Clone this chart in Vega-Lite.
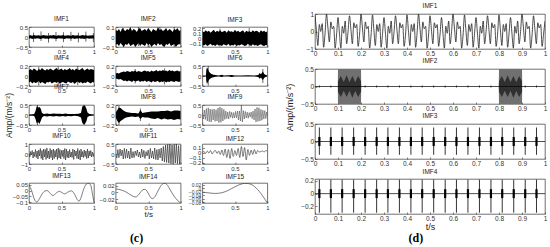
{
"$schema":"https://vega.github.io/schema/vega-lite/v6.json",
"padding":{"left":3,"top":2,"right":0,"bottom":0},
"background":"white",
"config":{
 "font":"Liberation Sans",
 "view":{"stroke":"#333","strokeWidth":0.7},
 "axis":{"grid":false,"domain":false,"tickSize":-2,"tickColor":"#333","tickWidth":0.6,"labelFontSize":6,"labelColor":"#333","labelPadding":3.5,"labelFlush":false,"labelOverlap":false,"labelFont":"Liberation Sans","titleFont":"Liberation Sans","titleFontWeight":"normal","titleColor":"#222"},
 "title":{"fontSize":6.5,"fontWeight":"normal","color":"#222","offset":2,"font":"Liberation Sans","anchor":"middle","frame":"group"}
},
"datasets":{"d":[
{"p":"a1","k":"e","t":0,"lo":-0.08,"hi":0.07},{"p":"a1","k":"e","t":0.025,"lo":-0.06,"hi":0.09},{"p":"a1","k":"e","t":0.05,"lo":-0.1,"hi":0.06},{"p":"a1","k":"e","t":0.075,"lo":-0.07,"hi":0.1},{"p":"a1","k":"e","t":0.1,"lo":-0.09,"hi":0.08},{"p":"a1","k":"e","t":0.125,"lo":-0.06,"hi":0.07},{"p":"a1","k":"e","t":0.15,"lo":-0.08,"hi":0.09},{"p":"a1","k":"e","t":0.175,"lo":-0.1,"hi":0.06},{"p":"a1","k":"e","t":0.2,"lo":-0.07,"hi":0.08},{"p":"a1","k":"e","t":0.225,"lo":-0.06,"hi":0.1},{"p":"a1","k":"e","t":0.25,"lo":-0.09,"hi":0.07},{"p":"a1","k":"e","t":0.275,"lo":-0.08,"hi":0.08},{"p":"a1","k":"e","t":0.3,"lo":-0.1,"hi":0.06},{"p":"a1","k":"e","t":0.325,"lo":-0.06,"hi":0.09},{"p":"a1","k":"e","t":0.35,"lo":-0.08,"hi":0.07},{"p":"a1","k":"e","t":0.375,"lo":-0.07,"hi":0.1},{"p":"a1","k":"e","t":0.4,"lo":-0.09,"hi":0.08},{"p":"a1","k":"e","t":0.425,"lo":-0.1,"hi":0.06},{"p":"a1","k":"e","t":0.45,"lo":-0.06,"hi":0.09},{"p":"a1","k":"e","t":0.475,"lo":-0.08,"hi":0.07},{"p":"a1","k":"e","t":0.5,"lo":-0.07,"hi":0.08},{"p":"a1","k":"e","t":0.525,"lo":-0.09,"hi":0.1},{"p":"a1","k":"e","t":0.55,"lo":-0.1,"hi":0.06},{"p":"a1","k":"e","t":0.575,"lo":-0.06,"hi":0.08},{"p":"a1","k":"e","t":0.6,"lo":-0.08,"hi":0.09},{"p":"a1","k":"e","t":0.625,"lo":-0.07,"hi":0.07},{"p":"a1","k":"e","t":0.65,"lo":-0.09,"hi":0.06},{"p":"a1","k":"e","t":0.675,"lo":-0.06,"hi":0.1},{"p":"a1","k":"e","t":0.7,"lo":-0.1,"hi":0.08},{"p":"a1","k":"e","t":0.725,"lo":-0.08,"hi":0.07},{"p":"a1","k":"e","t":0.75,"lo":-0.07,"hi":0.09},{"p":"a1","k":"e","t":0.775,"lo":-0.06,"hi":0.06},{"p":"a1","k":"e","t":0.8,"lo":-0.09,"hi":0.08},{"p":"a1","k":"e","t":0.825,"lo":-0.08,"hi":0.1},{"p":"a1","k":"e","t":0.85,"lo":-0.1,"hi":0.07},{"p":"a1","k":"e","t":0.875,"lo":-0.07,"hi":0.09},{"p":"a1","k":"e","t":0.9,"lo":-0.06,"hi":0.06},{"p":"a1","k":"e","t":0.925,"lo":-0.09,"hi":0.08},{"p":"a1","k":"e","t":0.95,"lo":-0.08,"hi":0.07},{"p":"a1","k":"e","t":0.975,"lo":-0.07,"hi":0.09},{"p":"a1","k":"e","t":1,"lo":-0.08,"hi":0.08},
{"p":"a1","k":"s","t":0.07,"lo":-0.25,"hi":0.22},{"p":"a1","k":"s","t":0.185,"lo":-0.2,"hi":0.28},{"p":"a1","k":"s","t":0.3,"lo":-0.28,"hi":0.2},{"p":"a1","k":"s","t":0.415,"lo":-0.22,"hi":0.25},{"p":"a1","k":"s","t":0.53,"lo":-0.26,"hi":0.24},{"p":"a1","k":"s","t":0.645,"lo":-0.2,"hi":0.26},{"p":"a1","k":"s","t":0.76,"lo":-0.27,"hi":0.22},{"p":"a1","k":"s","t":0.875,"lo":-0.23,"hi":0.27},{"p":"a1","k":"s","t":0.99,"lo":-0.25,"hi":0.2},
{"p":"a2","k":"e","t":0,"lo":-0.08,"hi":0.07},{"p":"a2","k":"e","t":0.025,"lo":-0.07,"hi":0.06},{"p":"a2","k":"e","t":0.05,"lo":-0.09,"hi":0.08},{"p":"a2","k":"e","t":0.075,"lo":-0.06,"hi":0.05},{"p":"a2","k":"e","t":0.1,"lo":-0.08,"hi":0.09},{"p":"a2","k":"e","t":0.125,"lo":-0.1,"hi":0.07},{"p":"a2","k":"e","t":0.15,"lo":-0.07,"hi":0.06},{"p":"a2","k":"e","t":0.175,"lo":-0.08,"hi":0.08},{"p":"a2","k":"e","t":0.2,"lo":-0.06,"hi":0.07},{"p":"a2","k":"e","t":0.225,"lo":-0.09,"hi":0.1},{"p":"a2","k":"e","t":0.25,"lo":-0.08,"hi":0.06},{"p":"a2","k":"e","t":0.275,"lo":-0.07,"hi":0.08},{"p":"a2","k":"e","t":0.3,"lo":-0.1,"hi":0.07},{"p":"a2","k":"e","t":0.325,"lo":-0.08,"hi":0.05},{"p":"a2","k":"e","t":0.35,"lo":-0.06,"hi":0.08},{"p":"a2","k":"e","t":0.375,"lo":-0.09,"hi":0.09},{"p":"a2","k":"e","t":0.4,"lo":-0.07,"hi":0.06},{"p":"a2","k":"e","t":0.425,"lo":-0.08,"hi":0.07},{"p":"a2","k":"e","t":0.45,"lo":-0.09,"hi":0.08},{"p":"a2","k":"e","t":0.475,"lo":-0.06,"hi":0.06},{"p":"a2","k":"e","t":0.5,"lo":-0.08,"hi":0.09},{"p":"a2","k":"e","t":0.525,"lo":-0.07,"hi":0.07},{"p":"a2","k":"e","t":0.55,"lo":-0.1,"hi":0.05},{"p":"a2","k":"e","t":0.575,"lo":-0.08,"hi":0.08},{"p":"a2","k":"e","t":0.6,"lo":-0.07,"hi":0.07},{"p":"a2","k":"e","t":0.625,"lo":-0.09,"hi":0.06},{"p":"a2","k":"e","t":0.65,"lo":-0.06,"hi":0.1},{"p":"a2","k":"e","t":0.675,"lo":-0.08,"hi":0.07},{"p":"a2","k":"e","t":0.7,"lo":-0.07,"hi":0.08},{"p":"a2","k":"e","t":0.725,"lo":-0.09,"hi":0.06},{"p":"a2","k":"e","t":0.75,"lo":-0.1,"hi":0.07},{"p":"a2","k":"e","t":0.775,"lo":-0.07,"hi":0.09},{"p":"a2","k":"e","t":0.8,"lo":-0.08,"hi":0.06},{"p":"a2","k":"e","t":0.825,"lo":-0.06,"hi":0.08},{"p":"a2","k":"e","t":0.85,"lo":-0.09,"hi":0.07},{"p":"a2","k":"e","t":0.875,"lo":-0.08,"hi":0.05},{"p":"a2","k":"e","t":0.9,"lo":-0.07,"hi":0.08},{"p":"a2","k":"e","t":0.925,"lo":-0.1,"hi":0.07},{"p":"a2","k":"e","t":0.95,"lo":-0.08,"hi":0.09},{"p":"a2","k":"e","t":0.975,"lo":-0.07,"hi":0.06},{"p":"a2","k":"e","t":1,"lo":-0.08,"hi":0.07},
{"p":"a2","k":"s","t":0.12,"lo":-0.1,"hi":0.09},{"p":"a2","k":"s","t":0.35,"lo":-0.09,"hi":0.1},{"p":"a2","k":"s","t":0.5,"lo":-0.1,"hi":0.08},{"p":"a2","k":"s","t":0.68,"lo":-0.08,"hi":0.1},{"p":"a2","k":"s","t":0.9,"lo":-0.1,"hi":0.1},
{"p":"a3","k":"e","t":0,"lo":-0.12,"hi":0.14},{"p":"a3","k":"e","t":0.025,"lo":-0.13,"hi":0.12},{"p":"a3","k":"e","t":0.05,"lo":-0.11,"hi":0.16},{"p":"a3","k":"e","t":0.075,"lo":-0.14,"hi":0.13},{"p":"a3","k":"e","t":0.1,"lo":-0.12,"hi":0.15},{"p":"a3","k":"e","t":0.125,"lo":-0.1,"hi":0.11},{"p":"a3","k":"e","t":0.15,"lo":-0.13,"hi":0.14},{"p":"a3","k":"e","t":0.175,"lo":-0.12,"hi":0.17},{"p":"a3","k":"e","t":0.2,"lo":-0.14,"hi":0.12},{"p":"a3","k":"e","t":0.225,"lo":-0.11,"hi":0.15},{"p":"a3","k":"e","t":0.25,"lo":-0.13,"hi":0.13},{"p":"a3","k":"e","t":0.275,"lo":-0.12,"hi":0.16},{"p":"a3","k":"e","t":0.3,"lo":-0.14,"hi":0.12},{"p":"a3","k":"e","t":0.325,"lo":-0.11,"hi":0.14},{"p":"a3","k":"e","t":0.35,"lo":-0.12,"hi":0.15},{"p":"a3","k":"e","t":0.375,"lo":-0.13,"hi":0.11},{"p":"a3","k":"e","t":0.4,"lo":-0.1,"hi":0.16},{"p":"a3","k":"e","t":0.425,"lo":-0.14,"hi":0.13},{"p":"a3","k":"e","t":0.45,"lo":-0.12,"hi":0.14},{"p":"a3","k":"e","t":0.475,"lo":-0.13,"hi":0.12},{"p":"a3","k":"e","t":0.5,"lo":-0.11,"hi":0.17},{"p":"a3","k":"e","t":0.525,"lo":-0.14,"hi":0.13},{"p":"a3","k":"e","t":0.55,"lo":-0.12,"hi":0.15},{"p":"a3","k":"e","t":0.575,"lo":-0.13,"hi":0.12},{"p":"a3","k":"e","t":0.6,"lo":-0.11,"hi":0.14},{"p":"a3","k":"e","t":0.625,"lo":-0.12,"hi":0.16},{"p":"a3","k":"e","t":0.65,"lo":-0.14,"hi":0.11},{"p":"a3","k":"e","t":0.675,"lo":-0.13,"hi":0.15},{"p":"a3","k":"e","t":0.7,"lo":-0.1,"hi":0.13},{"p":"a3","k":"e","t":0.725,"lo":-0.12,"hi":0.14},{"p":"a3","k":"e","t":0.75,"lo":-0.14,"hi":0.12},{"p":"a3","k":"e","t":0.775,"lo":-0.11,"hi":0.16},{"p":"a3","k":"e","t":0.8,"lo":-0.13,"hi":0.13},{"p":"a3","k":"e","t":0.825,"lo":-0.12,"hi":0.15},{"p":"a3","k":"e","t":0.85,"lo":-0.14,"hi":0.14},{"p":"a3","k":"e","t":0.875,"lo":-0.12,"hi":0.11},{"p":"a3","k":"e","t":0.9,"lo":-0.11,"hi":0.16},{"p":"a3","k":"e","t":0.925,"lo":-0.13,"hi":0.13},{"p":"a3","k":"e","t":0.95,"lo":-0.14,"hi":0.15},{"p":"a3","k":"e","t":0.975,"lo":-0.12,"hi":0.12},{"p":"a3","k":"e","t":1,"lo":-0.13,"hi":0.14},
{"p":"a3","k":"s","t":0.27,"lo":-0.15,"hi":0.19},{"p":"a3","k":"s","t":0.72,"lo":-0.15,"hi":0.2},
{"p":"a4","k":"e","t":0,"lo":-0.13,"hi":0.12},{"p":"a4","k":"e","t":0.025,"lo":-0.11,"hi":0.14},{"p":"a4","k":"e","t":0.05,"lo":-0.15,"hi":0.11},{"p":"a4","k":"e","t":0.075,"lo":-0.12,"hi":0.15},{"p":"a4","k":"e","t":0.1,"lo":-0.14,"hi":0.13},{"p":"a4","k":"e","t":0.125,"lo":-0.13,"hi":0.1},{"p":"a4","k":"e","t":0.15,"lo":-0.1,"hi":0.14},{"p":"a4","k":"e","t":0.175,"lo":-0.15,"hi":0.12},{"p":"a4","k":"e","t":0.2,"lo":-0.12,"hi":0.16},{"p":"a4","k":"e","t":0.225,"lo":-0.14,"hi":0.13},{"p":"a4","k":"e","t":0.25,"lo":-0.16,"hi":0.11},{"p":"a4","k":"e","t":0.275,"lo":-0.12,"hi":0.14},{"p":"a4","k":"e","t":0.3,"lo":-0.13,"hi":0.12},{"p":"a4","k":"e","t":0.325,"lo":-0.11,"hi":0.15},{"p":"a4","k":"e","t":0.35,"lo":-0.15,"hi":0.13},{"p":"a4","k":"e","t":0.375,"lo":-0.13,"hi":0.11},{"p":"a4","k":"e","t":0.4,"lo":-0.12,"hi":0.14},{"p":"a4","k":"e","t":0.425,"lo":-0.14,"hi":0.16},{"p":"a4","k":"e","t":0.45,"lo":-0.11,"hi":0.12},{"p":"a4","k":"e","t":0.475,"lo":-0.16,"hi":0.13},{"p":"a4","k":"e","t":0.5,"lo":-0.13,"hi":0.15},{"p":"a4","k":"e","t":0.525,"lo":-0.12,"hi":0.11},{"p":"a4","k":"e","t":0.55,"lo":-0.14,"hi":0.14},{"p":"a4","k":"e","t":0.575,"lo":-0.15,"hi":0.12},{"p":"a4","k":"e","t":0.6,"lo":-0.11,"hi":0.13},{"p":"a4","k":"e","t":0.625,"lo":-0.13,"hi":0.16},{"p":"a4","k":"e","t":0.65,"lo":-0.14,"hi":0.12},{"p":"a4","k":"e","t":0.675,"lo":-0.12,"hi":0.14},{"p":"a4","k":"e","t":0.7,"lo":-0.16,"hi":0.11},{"p":"a4","k":"e","t":0.725,"lo":-0.13,"hi":0.15},{"p":"a4","k":"e","t":0.75,"lo":-0.11,"hi":0.13},{"p":"a4","k":"e","t":0.775,"lo":-0.14,"hi":0.12},{"p":"a4","k":"e","t":0.8,"lo":-0.12,"hi":0.14},{"p":"a4","k":"e","t":0.825,"lo":-0.15,"hi":0.16},{"p":"a4","k":"e","t":0.85,"lo":-0.13,"hi":0.11},{"p":"a4","k":"e","t":0.875,"lo":-0.14,"hi":0.13},{"p":"a4","k":"e","t":0.9,"lo":-0.11,"hi":0.15},{"p":"a4","k":"e","t":0.925,"lo":-0.13,"hi":0.12},{"p":"a4","k":"e","t":0.95,"lo":-0.15,"hi":0.14},{"p":"a4","k":"e","t":0.975,"lo":-0.12,"hi":0.13},{"p":"a4","k":"e","t":1,"lo":-0.13,"hi":0.12},
{"p":"a4","k":"s","t":0.15,"lo":-0.19,"hi":0.18},{"p":"a4","k":"s","t":0.45,"lo":-0.2,"hi":0.19},{"p":"a4","k":"s","t":0.75,"lo":-0.18,"hi":0.2},
{"p":"a5","k":"e","t":0,"lo":-0.05,"hi":0.05},{"p":"a5","k":"e","t":0.025,"lo":-0.06,"hi":0.06},{"p":"a5","k":"e","t":0.05,"lo":-0.07,"hi":0.05},{"p":"a5","k":"e","t":0.075,"lo":-0.06,"hi":0.07},{"p":"a5","k":"e","t":0.1,"lo":-0.08,"hi":0.08},{"p":"a5","k":"e","t":0.125,"lo":-0.1,"hi":0.09},{"p":"a5","k":"e","t":0.15,"lo":-0.09,"hi":0.08},{"p":"a5","k":"e","t":0.175,"lo":-0.11,"hi":0.1},{"p":"a5","k":"e","t":0.2,"lo":-0.09,"hi":0.09},{"p":"a5","k":"e","t":0.225,"lo":-0.1,"hi":0.08},{"p":"a5","k":"e","t":0.25,"lo":-0.12,"hi":0.1},{"p":"a5","k":"e","t":0.275,"lo":-0.09,"hi":0.09},{"p":"a5","k":"e","t":0.3,"lo":-0.11,"hi":0.11},{"p":"a5","k":"e","t":0.325,"lo":-0.1,"hi":0.08},{"p":"a5","k":"e","t":0.35,"lo":-0.09,"hi":0.1},{"p":"a5","k":"e","t":0.375,"lo":-0.12,"hi":0.09},{"p":"a5","k":"e","t":0.4,"lo":-0.1,"hi":0.08},{"p":"a5","k":"e","t":0.425,"lo":-0.11,"hi":0.1},{"p":"a5","k":"e","t":0.45,"lo":-0.09,"hi":0.11},{"p":"a5","k":"e","t":0.475,"lo":-0.12,"hi":0.09},{"p":"a5","k":"e","t":0.5,"lo":-0.1,"hi":0.1},{"p":"a5","k":"e","t":0.525,"lo":-0.11,"hi":0.08},{"p":"a5","k":"e","t":0.55,"lo":-0.13,"hi":0.11},{"p":"a5","k":"e","t":0.575,"lo":-0.1,"hi":0.09},{"p":"a5","k":"e","t":0.6,"lo":-0.12,"hi":0.1},{"p":"a5","k":"e","t":0.625,"lo":-0.11,"hi":0.12},{"p":"a5","k":"e","t":0.65,"lo":-0.1,"hi":0.09},{"p":"a5","k":"e","t":0.675,"lo":-0.13,"hi":0.11},{"p":"a5","k":"e","t":0.7,"lo":-0.11,"hi":0.1},{"p":"a5","k":"e","t":0.725,"lo":-0.12,"hi":0.12},{"p":"a5","k":"e","t":0.75,"lo":-0.1,"hi":0.1},{"p":"a5","k":"e","t":0.775,"lo":-0.13,"hi":0.11},{"p":"a5","k":"e","t":0.8,"lo":-0.11,"hi":0.09},{"p":"a5","k":"e","t":0.825,"lo":-0.12,"hi":0.12},{"p":"a5","k":"e","t":0.85,"lo":-0.1,"hi":0.1},{"p":"a5","k":"e","t":0.875,"lo":-0.11,"hi":0.11},{"p":"a5","k":"e","t":0.9,"lo":-0.12,"hi":0.09},{"p":"a5","k":"e","t":0.925,"lo":-0.1,"hi":0.1},{"p":"a5","k":"e","t":0.95,"lo":-0.11,"hi":0.11},{"p":"a5","k":"e","t":0.975,"lo":-0.12,"hi":0.09},{"p":"a5","k":"e","t":1,"lo":-0.1,"hi":0.1},
{"p":"a5","k":"s","t":0.3,"lo":-0.15,"hi":0.14},{"p":"a5","k":"s","t":0.75,"lo":-0.17,"hi":0.15},
{"p":"a6","k":"e","t":0,"lo":-0.02,"hi":0.02},{"p":"a6","k":"e","t":0.03,"lo":-0.03,"hi":0.02},{"p":"a6","k":"e","t":0.055,"lo":-0.02,"hi":0.03},{"p":"a6","k":"e","t":0.06,"lo":-0.25,"hi":0.3},{"p":"a6","k":"e","t":0.07,"lo":-0.4,"hi":0.42},{"p":"a6","k":"e","t":0.085,"lo":-0.3,"hi":0.35},{"p":"a6","k":"e","t":0.1,"lo":-0.2,"hi":0.22},{"p":"a6","k":"e","t":0.12,"lo":-0.14,"hi":0.15},{"p":"a6","k":"e","t":0.14,"lo":-0.09,"hi":0.1},{"p":"a6","k":"e","t":0.17,"lo":-0.06,"hi":0.06},{"p":"a6","k":"e","t":0.2,"lo":-0.04,"hi":0.05},{"p":"a6","k":"e","t":0.25,"lo":-0.03,"hi":0.03},{"p":"a6","k":"e","t":0.3,"lo":-0.05,"hi":0.06},{"p":"a6","k":"e","t":0.33,"lo":-0.03,"hi":0.03},{"p":"a6","k":"e","t":0.4,"lo":-0.03,"hi":0.04},{"p":"a6","k":"e","t":0.45,"lo":-0.05,"hi":0.05},{"p":"a6","k":"e","t":0.5,"lo":-0.03,"hi":0.03},{"p":"a6","k":"e","t":0.6,"lo":-0.03,"hi":0.03},{"p":"a6","k":"e","t":0.7,"lo":-0.03,"hi":0.04},{"p":"a6","k":"e","t":0.8,"lo":-0.03,"hi":0.03},{"p":"a6","k":"e","t":0.86,"lo":-0.05,"hi":0.05},{"p":"a6","k":"e","t":0.88,"lo":-0.14,"hi":0.15},{"p":"a6","k":"e","t":0.9,"lo":-0.08,"hi":0.09},{"p":"a6","k":"e","t":0.93,"lo":-0.2,"hi":0.22},{"p":"a6","k":"e","t":0.95,"lo":-0.1,"hi":0.1},{"p":"a6","k":"e","t":0.97,"lo":-0.05,"hi":0.06},{"p":"a6","k":"e","t":1,"lo":-0.03,"hi":0.03},
{"p":"a6","k":"s","t":0.09,"lo":-0.48,"hi":0.5},{"p":"a6","k":"s","t":0.93,"lo":-0.35,"hi":0.35},
{"p":"a7","k":"e","t":0,"lo":-0.03,"hi":0.03},{"p":"a7","k":"e","t":0.05,"lo":-0.04,"hi":0.04},{"p":"a7","k":"e","t":0.08,"lo":-0.05,"hi":0.05},{"p":"a7","k":"e","t":0.1,"lo":-0.2,"hi":0.2},{"p":"a7","k":"e","t":0.12,"lo":-0.42,"hi":0.45},{"p":"a7","k":"e","t":0.14,"lo":-0.35,"hi":0.38},{"p":"a7","k":"e","t":0.16,"lo":-0.45,"hi":0.4},{"p":"a7","k":"e","t":0.18,"lo":-0.3,"hi":0.32},{"p":"a7","k":"e","t":0.2,"lo":-0.12,"hi":0.1},{"p":"a7","k":"e","t":0.23,"lo":-0.05,"hi":0.05},{"p":"a7","k":"e","t":0.28,"lo":-0.07,"hi":0.08},{"p":"a7","k":"e","t":0.32,"lo":-0.05,"hi":0.05},{"p":"a7","k":"e","t":0.38,"lo":-0.08,"hi":0.07},{"p":"a7","k":"e","t":0.42,"lo":-0.05,"hi":0.06},{"p":"a7","k":"e","t":0.47,"lo":-0.07,"hi":0.06},{"p":"a7","k":"e","t":0.52,"lo":-0.05,"hi":0.05},{"p":"a7","k":"e","t":0.56,"lo":-0.08,"hi":0.08},{"p":"a7","k":"e","t":0.6,"lo":-0.05,"hi":0.05},{"p":"a7","k":"e","t":0.65,"lo":-0.06,"hi":0.05},{"p":"a7","k":"e","t":0.7,"lo":-0.04,"hi":0.05},{"p":"a7","k":"e","t":0.76,"lo":-0.06,"hi":0.06},{"p":"a7","k":"e","t":0.8,"lo":-0.12,"hi":0.1},{"p":"a7","k":"e","t":0.82,"lo":-0.4,"hi":0.42},{"p":"a7","k":"e","t":0.845,"lo":-0.48,"hi":0.48},{"p":"a7","k":"e","t":0.865,"lo":-0.42,"hi":0.45},{"p":"a7","k":"e","t":0.885,"lo":-0.3,"hi":0.3},{"p":"a7","k":"e","t":0.9,"lo":-0.1,"hi":0.12},{"p":"a7","k":"e","t":0.93,"lo":-0.05,"hi":0.05},{"p":"a7","k":"e","t":0.97,"lo":-0.04,"hi":0.04},{"p":"a7","k":"e","t":1,"lo":-0.03,"hi":0.03},
{"p":"a7","k":"s","t":0.13,"lo":-0.5,"hi":0.5},{"p":"a7","k":"s","t":0.85,"lo":-0.5,"hi":0.5},
{"p":"a8","k":"e","t":0,"lo":-0.05,"hi":0.05},{"p":"a8","k":"e","t":0.025,"lo":-0.12,"hi":0.1},{"p":"a8","k":"e","t":0.05,"lo":-0.16,"hi":0.15},{"p":"a8","k":"e","t":0.075,"lo":-0.12,"hi":0.14},{"p":"a8","k":"e","t":0.1,"lo":-0.1,"hi":0.11},{"p":"a8","k":"e","t":0.13,"lo":-0.07,"hi":0.08},{"p":"a8","k":"e","t":0.16,"lo":-0.05,"hi":0.06},{"p":"a8","k":"e","t":0.2,"lo":-0.04,"hi":0.05},{"p":"a8","k":"e","t":0.25,"lo":-0.03,"hi":0.04},{"p":"a8","k":"e","t":0.3,"lo":-0.04,"hi":0.04},{"p":"a8","k":"e","t":0.35,"lo":-0.03,"hi":0.03},{"p":"a8","k":"e","t":0.38,"lo":-0.08,"hi":0.1},{"p":"a8","k":"e","t":0.41,"lo":-0.04,"hi":0.04},{"p":"a8","k":"e","t":0.45,"lo":-0.05,"hi":0.05},{"p":"a8","k":"e","t":0.5,"lo":-0.05,"hi":0.06},{"p":"a8","k":"e","t":0.55,"lo":-0.07,"hi":0.07},{"p":"a8","k":"e","t":0.6,"lo":-0.08,"hi":0.07},{"p":"a8","k":"e","t":0.65,"lo":-0.06,"hi":0.07},{"p":"a8","k":"e","t":0.7,"lo":-0.09,"hi":0.08},{"p":"a8","k":"e","t":0.75,"lo":-0.07,"hi":0.08},{"p":"a8","k":"e","t":0.8,"lo":-0.09,"hi":0.09},{"p":"a8","k":"e","t":0.85,"lo":-0.08,"hi":0.07},{"p":"a8","k":"e","t":0.9,"lo":-0.1,"hi":0.09},{"p":"a8","k":"e","t":0.95,"lo":-0.08,"hi":0.09},{"p":"a8","k":"e","t":1,"lo":-0.09,"hi":0.08},
{"p":"a8","k":"s","t":0.05,"lo":-0.2,"hi":0.19},{"p":"a8","k":"s","t":0.38,"lo":-0.12,"hi":0.13},
{"p":"a9","k":"l","t":0,"lo":0.1},{"p":"a9","k":"l","t":0.015,"lo":-0.2},{"p":"a9","k":"l","t":0.03,"lo":0.25},{"p":"a9","k":"l","t":0.045,"lo":-0.22},{"p":"a9","k":"l","t":0.06,"lo":0.32},{"p":"a9","k":"l","t":0.075,"lo":-0.3},{"p":"a9","k":"l","t":0.09,"lo":0.36},{"p":"a9","k":"l","t":0.105,"lo":-0.33},{"p":"a9","k":"l","t":0.12,"lo":0.3},{"p":"a9","k":"l","t":0.135,"lo":-0.35},{"p":"a9","k":"l","t":0.15,"lo":0.28},{"p":"a9","k":"l","t":0.165,"lo":-0.25},{"p":"a9","k":"l","t":0.18,"lo":0.3},{"p":"a9","k":"l","t":0.195,"lo":-0.32},{"p":"a9","k":"l","t":0.21,"lo":0.26},{"p":"a9","k":"l","t":0.225,"lo":-0.3},{"p":"a9","k":"l","t":0.24,"lo":0.35},{"p":"a9","k":"l","t":0.255,"lo":-0.38},{"p":"a9","k":"l","t":0.27,"lo":0.4},{"p":"a9","k":"l","t":0.285,"lo":-0.36},{"p":"a9","k":"l","t":0.3,"lo":0.34},{"p":"a9","k":"l","t":0.315,"lo":-0.3},{"p":"a9","k":"l","t":0.33,"lo":0.28},{"p":"a9","k":"l","t":0.345,"lo":-0.22},{"p":"a9","k":"l","t":0.36,"lo":0.2},{"p":"a9","k":"l","t":0.375,"lo":-0.18},{"p":"a9","k":"l","t":0.39,"lo":0.15},{"p":"a9","k":"l","t":0.405,"lo":-0.2},{"p":"a9","k":"l","t":0.42,"lo":0.18},{"p":"a9","k":"l","t":0.435,"lo":-0.12},{"p":"a9","k":"l","t":0.45,"lo":0.14},{"p":"a9","k":"l","t":0.465,"lo":-0.16},{"p":"a9","k":"l","t":0.48,"lo":0.12},{"p":"a9","k":"l","t":0.495,"lo":-0.15},{"p":"a9","k":"l","t":0.51,"lo":0.18},{"p":"a9","k":"l","t":0.525,"lo":-0.14},{"p":"a9","k":"l","t":0.54,"lo":0.2},{"p":"a9","k":"l","t":0.555,"lo":-0.25},{"p":"a9","k":"l","t":0.57,"lo":0.2},{"p":"a9","k":"l","t":0.585,"lo":-0.3},{"p":"a9","k":"l","t":0.6,"lo":0.5},{"p":"a9","k":"l","t":0.615,"lo":-0.35},{"p":"a9","k":"l","t":0.63,"lo":0.22},{"p":"a9","k":"l","t":0.645,"lo":-0.2},{"p":"a9","k":"l","t":0.66,"lo":0.18},{"p":"a9","k":"l","t":0.675,"lo":-0.15},{"p":"a9","k":"l","t":0.69,"lo":0.14},{"p":"a9","k":"l","t":0.705,"lo":-0.16},{"p":"a9","k":"l","t":0.72,"lo":0.12},{"p":"a9","k":"l","t":0.735,"lo":-0.1},{"p":"a9","k":"l","t":0.75,"lo":0.15},{"p":"a9","k":"l","t":0.765,"lo":-0.18},{"p":"a9","k":"l","t":0.78,"lo":0.2},{"p":"a9","k":"l","t":0.795,"lo":-0.25},{"p":"a9","k":"l","t":0.81,"lo":0.3},{"p":"a9","k":"l","t":0.825,"lo":-0.35},{"p":"a9","k":"l","t":0.84,"lo":0.38},{"p":"a9","k":"l","t":0.855,"lo":-0.32},{"p":"a9","k":"l","t":0.87,"lo":0.36},{"p":"a9","k":"l","t":0.885,"lo":-0.3},{"p":"a9","k":"l","t":0.9,"lo":0.28},{"p":"a9","k":"l","t":0.915,"lo":-0.26},{"p":"a9","k":"l","t":0.93,"lo":0.24},{"p":"a9","k":"l","t":0.945,"lo":-0.2},{"p":"a9","k":"l","t":0.96,"lo":0.22},{"p":"a9","k":"l","t":0.975,"lo":-0.18},{"p":"a9","k":"l","t":0.99,"lo":0.15},{"p":"a9","k":"l","t":1,"lo":-0.1},
{"p":"a10","k":"l","t":0,"lo":0.1},{"p":"a10","k":"l","t":0.0125,"lo":-0.3},{"p":"a10","k":"l","t":0.025,"lo":0.25},{"p":"a10","k":"l","t":0.0375,"lo":-0.1},{"p":"a10","k":"l","t":0.05,"lo":0.35},{"p":"a10","k":"l","t":0.0625,"lo":-0.4},{"p":"a10","k":"l","t":0.075,"lo":0.2},{"p":"a10","k":"l","t":0.0875,"lo":-0.25},{"p":"a10","k":"l","t":0.1,"lo":0.45},{"p":"a10","k":"l","t":0.1125,"lo":-0.35},{"p":"a10","k":"l","t":0.125,"lo":0.3},{"p":"a10","k":"l","t":0.1375,"lo":-0.5},{"p":"a10","k":"l","t":0.15,"lo":0.4},{"p":"a10","k":"l","t":0.1625,"lo":-0.2},{"p":"a10","k":"l","t":0.175,"lo":0.55},{"p":"a10","k":"l","t":0.1875,"lo":-0.45},{"p":"a10","k":"l","t":0.2,"lo":0.35},{"p":"a10","k":"l","t":0.2125,"lo":-0.6},{"p":"a10","k":"l","t":0.225,"lo":0.5},{"p":"a10","k":"l","t":0.2375,"lo":-0.3},{"p":"a10","k":"l","t":0.25,"lo":0.45},{"p":"a10","k":"l","t":0.2625,"lo":-0.55},{"p":"a10","k":"l","t":0.275,"lo":0.6},{"p":"a10","k":"l","t":0.2875,"lo":-0.4},{"p":"a10","k":"l","t":0.3,"lo":0.3},{"p":"a10","k":"l","t":0.3125,"lo":-0.5},{"p":"a10","k":"l","t":0.325,"lo":0.55},{"p":"a10","k":"l","t":0.3375,"lo":-0.35},{"p":"a10","k":"l","t":0.35,"lo":0.4},{"p":"a10","k":"l","t":0.3625,"lo":-0.6},{"p":"a10","k":"l","t":0.375,"lo":0.5},{"p":"a10","k":"l","t":0.3875,"lo":-0.45},{"p":"a10","k":"l","t":0.4,"lo":0.35},{"p":"a10","k":"l","t":0.4125,"lo":-0.3},{"p":"a10","k":"l","t":0.425,"lo":0.5},{"p":"a10","k":"l","t":0.4375,"lo":-0.55},{"p":"a10","k":"l","t":0.45,"lo":0.6},{"p":"a10","k":"l","t":0.4625,"lo":-0.4},{"p":"a10","k":"l","t":0.475,"lo":0.45},{"p":"a10","k":"l","t":0.4875,"lo":-0.5},{"p":"a10","k":"l","t":0.5,"lo":0.35},{"p":"a10","k":"l","t":0.5125,"lo":-0.25},{"p":"a10","k":"l","t":0.525,"lo":0.4},{"p":"a10","k":"l","t":0.5375,"lo":-0.45},{"p":"a10","k":"l","t":0.55,"lo":0.55},{"p":"a10","k":"l","t":0.5625,"lo":-0.6},{"p":"a10","k":"l","t":0.575,"lo":0.5},{"p":"a10","k":"l","t":0.5875,"lo":-0.35},{"p":"a10","k":"l","t":0.6,"lo":0.3},{"p":"a10","k":"l","t":0.6125,"lo":-0.4},{"p":"a10","k":"l","t":0.625,"lo":0.45},{"p":"a10","k":"l","t":0.6375,"lo":-0.3},{"p":"a10","k":"l","t":0.65,"lo":0.2},{"p":"a10","k":"l","t":0.6625,"lo":-0.35},{"p":"a10","k":"l","t":0.675,"lo":0.5},{"p":"a10","k":"l","t":0.6875,"lo":-0.55},{"p":"a10","k":"l","t":0.7,"lo":0.4},{"p":"a10","k":"l","t":0.7125,"lo":-0.2},{"p":"a10","k":"l","t":0.725,"lo":0.3},{"p":"a10","k":"l","t":0.7375,"lo":-0.45},{"p":"a10","k":"l","t":0.75,"lo":0.55},{"p":"a10","k":"l","t":0.7625,"lo":-0.5},{"p":"a10","k":"l","t":0.775,"lo":0.35},{"p":"a10","k":"l","t":0.7875,"lo":-0.6},{"p":"a10","k":"l","t":0.8,"lo":0.5},{"p":"a10","k":"l","t":0.8125,"lo":-0.3},{"p":"a10","k":"l","t":0.825,"lo":0.25},{"p":"a10","k":"l","t":0.8375,"lo":-0.35},{"p":"a10","k":"l","t":0.85,"lo":0.4},{"p":"a10","k":"l","t":0.8625,"lo":-0.25},{"p":"a10","k":"l","t":0.875,"lo":0.3},{"p":"a10","k":"l","t":0.8875,"lo":-0.45},{"p":"a10","k":"l","t":0.9,"lo":0.5},{"p":"a10","k":"l","t":0.9125,"lo":-0.4},{"p":"a10","k":"l","t":0.925,"lo":0.3},{"p":"a10","k":"l","t":0.9375,"lo":-0.2},{"p":"a10","k":"l","t":0.95,"lo":0.35},{"p":"a10","k":"l","t":0.9625,"lo":-0.3},{"p":"a10","k":"l","t":0.975,"lo":0.2},{"p":"a10","k":"l","t":0.9875,"lo":-0.25},{"p":"a10","k":"l","t":1,"lo":0.1},
{"p":"a11","k":"l","t":0,"lo":0},{"p":"a11","k":"l","t":0.017,"lo":-0.2},{"p":"a11","k":"l","t":0.033,"lo":0.22},{"p":"a11","k":"l","t":0.05,"lo":-0.18},{"p":"a11","k":"l","t":0.067,"lo":0.25},{"p":"a11","k":"l","t":0.083,"lo":-0.1},{"p":"a11","k":"l","t":0.1,"lo":0.2},{"p":"a11","k":"l","t":0.117,"lo":-0.25},{"p":"a11","k":"l","t":0.133,"lo":0.28},{"p":"a11","k":"l","t":0.15,"lo":-0.22},{"p":"a11","k":"l","t":0.167,"lo":0.25},{"p":"a11","k":"l","t":0.183,"lo":-0.2},{"p":"a11","k":"l","t":0.2,"lo":0.15},{"p":"a11","k":"l","t":0.217,"lo":-0.25},{"p":"a11","k":"l","t":0.233,"lo":0.3},{"p":"a11","k":"l","t":0.25,"lo":-0.2},{"p":"a11","k":"l","t":0.267,"lo":0.12},{"p":"a11","k":"l","t":0.283,"lo":-0.18},{"p":"a11","k":"l","t":0.3,"lo":0.15},{"p":"a11","k":"l","t":0.317,"lo":-0.08},{"p":"a11","k":"l","t":0.333,"lo":0.2},{"p":"a11","k":"l","t":0.35,"lo":-0.15},{"p":"a11","k":"l","t":0.367,"lo":0.1},{"p":"a11","k":"l","t":0.383,"lo":-0.2},{"p":"a11","k":"l","t":0.4,"lo":0.25},{"p":"a11","k":"l","t":0.417,"lo":-0.15},{"p":"a11","k":"l","t":0.433,"lo":0.18},{"p":"a11","k":"l","t":0.45,"lo":-0.22},{"p":"a11","k":"l","t":0.467,"lo":0.12},{"p":"a11","k":"l","t":0.483,"lo":-0.1},{"p":"a11","k":"l","t":0.5,"lo":0.2},{"p":"a11","k":"l","t":0.517,"lo":-0.25},{"p":"a11","k":"l","t":0.533,"lo":0.28},{"p":"a11","k":"l","t":0.55,"lo":-0.2},{"p":"a11","k":"l","t":0.567,"lo":0.15},{"p":"a11","k":"l","t":0.583,"lo":-0.25},{"p":"a11","k":"l","t":0.6,"lo":0.3},{"p":"a11","k":"l","t":0.617,"lo":-0.28},{"p":"a11","k":"l","t":0.633,"lo":0.22},{"p":"a11","k":"l","t":0.65,"lo":-0.3},{"p":"a11","k":"l","t":0.667,"lo":0.25},{"p":"a11","k":"l","t":0.683,"lo":-0.2},{"p":"a11","k":"l","t":0.7,"lo":0.3},{"p":"a11","k":"l","t":0.717,"lo":-0.35},{"p":"a11","k":"l","t":0.733,"lo":0.38},{"p":"a11","k":"l","t":0.75,"lo":-0.4},{"p":"a11","k":"l","t":0.767,"lo":0.45},{"p":"a11","k":"l","t":0.783,"lo":-0.42},{"p":"a11","k":"l","t":0.8,"lo":0.48},{"p":"a11","k":"l","t":0.817,"lo":-0.45},{"p":"a11","k":"l","t":0.833,"lo":0.5},{"p":"a11","k":"l","t":0.85,"lo":-0.48},{"p":"a11","k":"l","t":0.867,"lo":0.45},{"p":"a11","k":"l","t":0.883,"lo":-0.5},{"p":"a11","k":"l","t":0.9,"lo":0.48},{"p":"a11","k":"l","t":0.917,"lo":-0.45},{"p":"a11","k":"l","t":0.933,"lo":0.5},{"p":"a11","k":"l","t":0.95,"lo":-0.48},{"p":"a11","k":"l","t":0.967,"lo":0.42},{"p":"a11","k":"l","t":0.983,"lo":-0.5},{"p":"a11","k":"l","t":1,"lo":0.45},
{"p":"a12","k":"l","t":0,"lo":0},{"p":"a12","k":"l","t":0.025,"lo":0.02},{"p":"a12","k":"l","t":0.05,"lo":-0.02},{"p":"a12","k":"l","t":0.075,"lo":0.03},{"p":"a12","k":"l","t":0.1,"lo":-0.01},{"p":"a12","k":"l","t":0.125,"lo":0.04},{"p":"a12","k":"l","t":0.15,"lo":-0.03},{"p":"a12","k":"l","t":0.175,"lo":0.02},{"p":"a12","k":"l","t":0.2,"lo":0.04},{"p":"a12","k":"l","t":0.225,"lo":-0.02},{"p":"a12","k":"l","t":0.25,"lo":0.03},{"p":"a12","k":"l","t":0.275,"lo":-0.04},{"p":"a12","k":"l","t":0.3,"lo":0.05},{"p":"a12","k":"l","t":0.325,"lo":-0.06},{"p":"a12","k":"l","t":0.35,"lo":0.07},{"p":"a12","k":"l","t":0.375,"lo":-0.1},{"p":"a12","k":"l","t":0.4,"lo":0.06},{"p":"a12","k":"l","t":0.425,"lo":-0.12},{"p":"a12","k":"l","t":0.45,"lo":0.08},{"p":"a12","k":"l","t":0.475,"lo":-0.08},{"p":"a12","k":"l","t":0.5,"lo":0.04},{"p":"a12","k":"l","t":0.525,"lo":-0.06},{"p":"a12","k":"l","t":0.55,"lo":0.08},{"p":"a12","k":"l","t":0.575,"lo":-0.1},{"p":"a12","k":"l","t":0.6,"lo":0.12},{"p":"a12","k":"l","t":0.625,"lo":-0.08},{"p":"a12","k":"l","t":0.65,"lo":0.1},{"p":"a12","k":"l","t":0.675,"lo":-0.15},{"p":"a12","k":"l","t":0.7,"lo":0.06},{"p":"a12","k":"l","t":0.725,"lo":-0.06},{"p":"a12","k":"l","t":0.75,"lo":0.05},{"p":"a12","k":"l","t":0.775,"lo":-0.04},{"p":"a12","k":"l","t":0.8,"lo":0.06},{"p":"a12","k":"l","t":0.825,"lo":-0.03},{"p":"a12","k":"l","t":0.85,"lo":0.04},{"p":"a12","k":"l","t":0.875,"lo":0.01},{"p":"a12","k":"l","t":0.9,"lo":0.02},{"p":"a12","k":"l","t":0.925,"lo":0.03},{"p":"a12","k":"l","t":0.95,"lo":0.01},{"p":"a12","k":"l","t":0.975,"lo":0.04},{"p":"a12","k":"l","t":1,"lo":0.02},
{"p":"a13","k":"l","t":0,"lo":0.05},{"p":"a13","k":"l","t":0.04,"lo":0},{"p":"a13","k":"l","t":0.08,"lo":-0.07},{"p":"a13","k":"l","t":0.12,"lo":-0.098},{"p":"a13","k":"l","t":0.16,"lo":-0.07},{"p":"a13","k":"l","t":0.2,"lo":-0.03},{"p":"a13","k":"l","t":0.24,"lo":-0.005},{"p":"a13","k":"l","t":0.28,"lo":0},{"p":"a13","k":"l","t":0.32,"lo":-0.02},{"p":"a13","k":"l","t":0.37,"lo":-0.042},{"p":"a13","k":"l","t":0.42,"lo":-0.02},{"p":"a13","k":"l","t":0.47,"lo":-0.006},{"p":"a13","k":"l","t":0.51,"lo":-0.018},{"p":"a13","k":"l","t":0.55,"lo":-0.028},{"p":"a13","k":"l","t":0.6,"lo":-0.012},{"p":"a13","k":"l","t":0.65,"lo":-0.002},{"p":"a13","k":"l","t":0.7,"lo":-0.03},{"p":"a13","k":"l","t":0.74,"lo":-0.075},{"p":"a13","k":"l","t":0.77,"lo":-0.09},{"p":"a13","k":"l","t":0.8,"lo":-0.06},{"p":"a13","k":"l","t":0.84,"lo":0.01},{"p":"a13","k":"l","t":0.88,"lo":0.055},{"p":"a13","k":"l","t":0.92,"lo":0.062},{"p":"a13","k":"l","t":0.95,"lo":0.045},{"p":"a13","k":"l","t":0.98,"lo":-0.04},{"p":"a13","k":"l","t":1,"lo":-0.1},
{"p":"a14","k":"l","t":0,"lo":0.01},{"p":"a14","k":"l","t":0.05,"lo":0.009},{"p":"a14","k":"l","t":0.1,"lo":0.006},{"p":"a14","k":"l","t":0.15,"lo":0.002},{"p":"a14","k":"l","t":0.2,"lo":-0.004},{"p":"a14","k":"l","t":0.25,"lo":-0.01},{"p":"a14","k":"l","t":0.3,"lo":-0.014},{"p":"a14","k":"l","t":0.34,"lo":-0.01},{"p":"a14","k":"l","t":0.38,"lo":0},{"p":"a14","k":"l","t":0.42,"lo":0.008},{"p":"a14","k":"l","t":0.45,"lo":0.009},{"p":"a14","k":"l","t":0.48,"lo":0.004},{"p":"a14","k":"l","t":0.52,"lo":-0.01},{"p":"a14","k":"l","t":0.56,"lo":-0.019},{"p":"a14","k":"l","t":0.6,"lo":-0.014},{"p":"a14","k":"l","t":0.64,"lo":0},{"p":"a14","k":"l","t":0.68,"lo":0.015},{"p":"a14","k":"l","t":0.72,"lo":0.025},{"p":"a14","k":"l","t":0.75,"lo":0.027},{"p":"a14","k":"l","t":0.78,"lo":0.025},{"p":"a14","k":"l","t":0.82,"lo":0.014},{"p":"a14","k":"l","t":0.86,"lo":0},{"p":"a14","k":"l","t":0.9,"lo":-0.012},{"p":"a14","k":"l","t":0.95,"lo":-0.024},{"p":"a14","k":"l","t":1,"lo":-0.032},
{"p":"a15","k":"l","t":0,"lo":-0.022},{"p":"a15","k":"l","t":0.05,"lo":-0.025},{"p":"a15","k":"l","t":0.1,"lo":-0.027},{"p":"a15","k":"l","t":0.15,"lo":-0.029},{"p":"a15","k":"l","t":0.2,"lo":-0.03},{"p":"a15","k":"l","t":0.25,"lo":-0.029},{"p":"a15","k":"l","t":0.3,"lo":-0.026},{"p":"a15","k":"l","t":0.35,"lo":-0.02},{"p":"a15","k":"l","t":0.4,"lo":-0.012},{"p":"a15","k":"l","t":0.45,"lo":-0.002},{"p":"a15","k":"l","t":0.5,"lo":0.008},{"p":"a15","k":"l","t":0.55,"lo":0.017},{"p":"a15","k":"l","t":0.6,"lo":0.024},{"p":"a15","k":"l","t":0.65,"lo":0.028},{"p":"a15","k":"l","t":0.7,"lo":0.027},{"p":"a15","k":"l","t":0.75,"lo":0.022},{"p":"a15","k":"l","t":0.8,"lo":0.01},{"p":"a15","k":"l","t":0.85,"lo":-0.008},{"p":"a15","k":"l","t":0.9,"lo":-0.03},{"p":"a15","k":"l","t":0.95,"lo":-0.057},{"p":"a15","k":"l","t":1,"lo":-0.085},
{"p":"b1","k":"l","t":0,"lo":0.95},{"p":"b1","k":"l","t":0.00625,"lo":0.05},{"p":"b1","k":"l","t":0.0125,"lo":-0.8},{"p":"b1","k":"l","t":0.01875,"lo":0.4},{"p":"b1","k":"l","t":0.025,"lo":0},{"p":"b1","k":"l","t":0.03125,"lo":0.45},{"p":"b1","k":"l","t":0.0375,"lo":-0.9},{"p":"b1","k":"l","t":0.04375,"lo":-0.1},
{"p":"b1","k":"l","t":0.05,"lo":1},{"p":"b1","k":"l","t":0.05625,"lo":0.2},{"p":"b1","k":"l","t":0.0625,"lo":-0.6},{"p":"b1","k":"l","t":0.06875,"lo":0.55},{"p":"b1","k":"l","t":0.075,"lo":0.15},{"p":"b1","k":"l","t":0.08125,"lo":0.3},{"p":"b1","k":"l","t":0.0875,"lo":-0.95},{"p":"b1","k":"l","t":0.09375,"lo":-0.2},
{"p":"b1","k":"l","t":0.1,"lo":0.8},{"p":"b1","k":"l","t":0.10625,"lo":-0.1},{"p":"b1","k":"l","t":0.1125,"lo":-0.95},{"p":"b1","k":"l","t":0.11875,"lo":0.3},{"p":"b1","k":"l","t":0.125,"lo":-0.1},{"p":"b1","k":"l","t":0.13125,"lo":0.6},{"p":"b1","k":"l","t":0.1375,"lo":-0.7},{"p":"b1","k":"l","t":0.14375,"lo":0},
{"p":"b1","k":"l","t":0.15,"lo":0.9},{"p":"b1","k":"l","t":0.15625,"lo":0.1},{"p":"b1","k":"l","t":0.1625,"lo":-0.7},{"p":"b1","k":"l","t":0.16875,"lo":0.5},{"p":"b1","k":"l","t":0.175,"lo":0.2},{"p":"b1","k":"l","t":0.18125,"lo":0.4},{"p":"b1","k":"l","t":0.1875,"lo":-0.85},{"p":"b1","k":"l","t":0.19375,"lo":-0.15},
{"p":"b1","k":"l","t":0.2,"lo":1},{"p":"b1","k":"l","t":0.20625,"lo":0.2},{"p":"b1","k":"l","t":0.2125,"lo":-0.6},{"p":"b1","k":"l","t":0.21875,"lo":0.55},{"p":"b1","k":"l","t":0.225,"lo":0.15},{"p":"b1","k":"l","t":0.23125,"lo":0.3},{"p":"b1","k":"l","t":0.2375,"lo":-0.95},{"p":"b1","k":"l","t":0.24375,"lo":-0.2},
{"p":"b1","k":"l","t":0.25,"lo":0.95},{"p":"b1","k":"l","t":0.25625,"lo":0.05},{"p":"b1","k":"l","t":0.2625,"lo":-0.8},{"p":"b1","k":"l","t":0.26875,"lo":0.4},{"p":"b1","k":"l","t":0.275,"lo":0},{"p":"b1","k":"l","t":0.28125,"lo":0.45},{"p":"b1","k":"l","t":0.2875,"lo":-0.9},{"p":"b1","k":"l","t":0.29375,"lo":-0.1},
{"p":"b1","k":"l","t":0.3,"lo":0.8},{"p":"b1","k":"l","t":0.30625,"lo":-0.1},{"p":"b1","k":"l","t":0.3125,"lo":-0.95},{"p":"b1","k":"l","t":0.31875,"lo":0.3},{"p":"b1","k":"l","t":0.325,"lo":-0.1},{"p":"b1","k":"l","t":0.33125,"lo":0.6},{"p":"b1","k":"l","t":0.3375,"lo":-0.7},{"p":"b1","k":"l","t":0.34375,"lo":0},
{"p":"b1","k":"l","t":0.35,"lo":0.9},{"p":"b1","k":"l","t":0.35625,"lo":0.1},{"p":"b1","k":"l","t":0.3625,"lo":-0.7},{"p":"b1","k":"l","t":0.36875,"lo":0.5},{"p":"b1","k":"l","t":0.375,"lo":0.2},{"p":"b1","k":"l","t":0.38125,"lo":0.4},{"p":"b1","k":"l","t":0.3875,"lo":-0.85},{"p":"b1","k":"l","t":0.39375,"lo":-0.15},
{"p":"b1","k":"l","t":0.4,"lo":0.95},{"p":"b1","k":"l","t":0.40625,"lo":0.05},{"p":"b1","k":"l","t":0.4125,"lo":-0.8},{"p":"b1","k":"l","t":0.41875,"lo":0.4},{"p":"b1","k":"l","t":0.425,"lo":0},{"p":"b1","k":"l","t":0.43125,"lo":0.45},{"p":"b1","k":"l","t":0.4375,"lo":-0.9},{"p":"b1","k":"l","t":0.44375,"lo":-0.1},
{"p":"b1","k":"l","t":0.45,"lo":1},{"p":"b1","k":"l","t":0.45625,"lo":0.2},{"p":"b1","k":"l","t":0.4625,"lo":-0.6},{"p":"b1","k":"l","t":0.46875,"lo":0.55},{"p":"b1","k":"l","t":0.475,"lo":0.15},{"p":"b1","k":"l","t":0.48125,"lo":0.3},{"p":"b1","k":"l","t":0.4875,"lo":-0.95},{"p":"b1","k":"l","t":0.49375,"lo":-0.2},
{"p":"b1","k":"l","t":0.5,"lo":0.9},{"p":"b1","k":"l","t":0.50625,"lo":0.1},{"p":"b1","k":"l","t":0.5125,"lo":-0.7},{"p":"b1","k":"l","t":0.51875,"lo":0.5},{"p":"b1","k":"l","t":0.525,"lo":0.2},{"p":"b1","k":"l","t":0.53125,"lo":0.4},{"p":"b1","k":"l","t":0.5375,"lo":-0.85},{"p":"b1","k":"l","t":0.54375,"lo":-0.15},
{"p":"b1","k":"l","t":0.55,"lo":0.8},{"p":"b1","k":"l","t":0.55625,"lo":-0.1},{"p":"b1","k":"l","t":0.5625,"lo":-0.95},{"p":"b1","k":"l","t":0.56875,"lo":0.3},{"p":"b1","k":"l","t":0.575,"lo":-0.1},{"p":"b1","k":"l","t":0.58125,"lo":0.6},{"p":"b1","k":"l","t":0.5875,"lo":-0.7},{"p":"b1","k":"l","t":0.59375,"lo":0},
{"p":"b1","k":"l","t":0.6,"lo":1},{"p":"b1","k":"l","t":0.60625,"lo":0.2},{"p":"b1","k":"l","t":0.6125,"lo":-0.6},{"p":"b1","k":"l","t":0.61875,"lo":0.55},{"p":"b1","k":"l","t":0.625,"lo":0.15},{"p":"b1","k":"l","t":0.63125,"lo":0.3},{"p":"b1","k":"l","t":0.6375,"lo":-0.95},{"p":"b1","k":"l","t":0.64375,"lo":-0.2},
{"p":"b1","k":"l","t":0.65,"lo":0.95},{"p":"b1","k":"l","t":0.65625,"lo":0.05},{"p":"b1","k":"l","t":0.6625,"lo":-0.8},{"p":"b1","k":"l","t":0.66875,"lo":0.4},{"p":"b1","k":"l","t":0.675,"lo":0},{"p":"b1","k":"l","t":0.68125,"lo":0.45},{"p":"b1","k":"l","t":0.6875,"lo":-0.9},{"p":"b1","k":"l","t":0.69375,"lo":-0.1},
{"p":"b1","k":"l","t":0.7,"lo":0.8},{"p":"b1","k":"l","t":0.70625,"lo":-0.1},{"p":"b1","k":"l","t":0.7125,"lo":-0.95},{"p":"b1","k":"l","t":0.71875,"lo":0.3},{"p":"b1","k":"l","t":0.725,"lo":-0.1},{"p":"b1","k":"l","t":0.73125,"lo":0.6},{"p":"b1","k":"l","t":0.7375,"lo":-0.7},{"p":"b1","k":"l","t":0.74375,"lo":0},
{"p":"b1","k":"l","t":0.75,"lo":0.9},{"p":"b1","k":"l","t":0.75625,"lo":0.1},{"p":"b1","k":"l","t":0.7625,"lo":-0.7},{"p":"b1","k":"l","t":0.76875,"lo":0.5},{"p":"b1","k":"l","t":0.775,"lo":0.2},{"p":"b1","k":"l","t":0.78125,"lo":0.4},{"p":"b1","k":"l","t":0.7875,"lo":-0.85},{"p":"b1","k":"l","t":0.79375,"lo":-0.15},
{"p":"b1","k":"l","t":0.8,"lo":0.95},{"p":"b1","k":"l","t":0.80625,"lo":0.05},{"p":"b1","k":"l","t":0.8125,"lo":-0.8},{"p":"b1","k":"l","t":0.81875,"lo":0.4},{"p":"b1","k":"l","t":0.825,"lo":0},{"p":"b1","k":"l","t":0.83125,"lo":0.45},{"p":"b1","k":"l","t":0.8375,"lo":-0.9},{"p":"b1","k":"l","t":0.84375,"lo":-0.1},
{"p":"b1","k":"l","t":0.85,"lo":0.8},{"p":"b1","k":"l","t":0.85625,"lo":-0.1},{"p":"b1","k":"l","t":0.8625,"lo":-0.95},{"p":"b1","k":"l","t":0.86875,"lo":0.3},{"p":"b1","k":"l","t":0.875,"lo":-0.1},{"p":"b1","k":"l","t":0.88125,"lo":0.6},{"p":"b1","k":"l","t":0.8875,"lo":-0.7},{"p":"b1","k":"l","t":0.89375,"lo":0},
{"p":"b1","k":"l","t":0.9,"lo":1},{"p":"b1","k":"l","t":0.90625,"lo":0.2},{"p":"b1","k":"l","t":0.9125,"lo":-0.6},{"p":"b1","k":"l","t":0.91875,"lo":0.55},{"p":"b1","k":"l","t":0.925,"lo":0.15},{"p":"b1","k":"l","t":0.93125,"lo":0.3},{"p":"b1","k":"l","t":0.9375,"lo":-0.95},{"p":"b1","k":"l","t":0.94375,"lo":-0.2},
{"p":"b1","k":"l","t":0.95,"lo":0.9},{"p":"b1","k":"l","t":0.95625,"lo":0.1},{"p":"b1","k":"l","t":0.9625,"lo":-0.7},{"p":"b1","k":"l","t":0.96875,"lo":0.5},{"p":"b1","k":"l","t":0.975,"lo":0.2},{"p":"b1","k":"l","t":0.98125,"lo":0.4},{"p":"b1","k":"l","t":0.9875,"lo":-0.85},{"p":"b1","k":"l","t":0.99375,"lo":-0.15},{"p":"b1","k":"l","t":1,"lo":0.6},
{"p":"b2","k":"e","t":0,"lo":0,"hi":0},{"p":"b2","k":"e","t":0.099,"lo":0,"hi":0},{"p":"b2","k":"e","t":0.1,"lo":-0.5,"hi":0.5},{"p":"b2","k":"e","t":0.2,"lo":-0.5,"hi":0.5},{"p":"b2","k":"e","t":0.201,"lo":0,"hi":0},{"p":"b2","k":"e","t":0.799,"lo":0,"hi":0},{"p":"b2","k":"e","t":0.8,"lo":-0.5,"hi":0.5},{"p":"b2","k":"e","t":0.9,"lo":-0.5,"hi":0.5},{"p":"b2","k":"e","t":0.901,"lo":0,"hi":0},{"p":"b2","k":"e","t":1,"lo":0,"hi":0},
{"p":"b2","k":"d","t":0.1,"lo":-0.15,"hi":0.15},{"p":"b2","k":"d","t":0.1125,"lo":-0.3,"hi":0.3},{"p":"b2","k":"d","t":0.125,"lo":-0.12,"hi":0.13},{"p":"b2","k":"d","t":0.1375,"lo":-0.3,"hi":0.32},{"p":"b2","k":"d","t":0.15,"lo":-0.12,"hi":0.12},{"p":"b2","k":"d","t":0.1625,"lo":-0.32,"hi":0.3},{"p":"b2","k":"d","t":0.175,"lo":-0.13,"hi":0.12},{"p":"b2","k":"d","t":0.1875,"lo":-0.3,"hi":0.3},{"p":"b2","k":"d","t":0.2,"lo":-0.15,"hi":0.15},{"p":"b2","k":"d","t":0.2005,"lo":0,"hi":0},{"p":"b2","k":"d","t":0.7995,"lo":0,"hi":0},{"p":"b2","k":"d","t":0.8,"lo":-0.15,"hi":0.15},{"p":"b2","k":"d","t":0.8125,"lo":-0.3,"hi":0.3},{"p":"b2","k":"d","t":0.825,"lo":-0.12,"hi":0.13},{"p":"b2","k":"d","t":0.8375,"lo":-0.3,"hi":0.32},{"p":"b2","k":"d","t":0.85,"lo":-0.12,"hi":0.12},{"p":"b2","k":"d","t":0.8625,"lo":-0.32,"hi":0.3},{"p":"b2","k":"d","t":0.875,"lo":-0.13,"hi":0.12},{"p":"b2","k":"d","t":0.8875,"lo":-0.3,"hi":0.3},{"p":"b2","k":"d","t":0.9,"lo":-0.15,"hi":0.15},
{"p":"b2","k":"l","t":0,"lo":0},{"p":"b2","k":"l","t":1,"lo":0},
{"p":"b2","k":"s","t":0.019,"lo":-0.03,"hi":0.03},{"p":"b2","k":"s","t":0.069,"lo":-0.03,"hi":0.03},{"p":"b2","k":"s","t":0.218,"lo":-0.03,"hi":0.03},{"p":"b2","k":"s","t":0.268,"lo":-0.03,"hi":0.03},{"p":"b2","k":"s","t":0.317,"lo":-0.03,"hi":0.03},{"p":"b2","k":"s","t":0.367,"lo":-0.03,"hi":0.03},{"p":"b2","k":"s","t":0.417,"lo":-0.03,"hi":0.03},{"p":"b2","k":"s","t":0.466,"lo":-0.03,"hi":0.03},{"p":"b2","k":"s","t":0.516,"lo":-0.03,"hi":0.03},{"p":"b2","k":"s","t":0.566,"lo":-0.03,"hi":0.03},{"p":"b2","k":"s","t":0.615,"lo":-0.03,"hi":0.03},{"p":"b2","k":"s","t":0.665,"lo":-0.03,"hi":0.03},{"p":"b2","k":"s","t":0.715,"lo":-0.03,"hi":0.03},{"p":"b2","k":"s","t":0.765,"lo":-0.03,"hi":0.03},{"p":"b2","k":"s","t":0.914,"lo":-0.03,"hi":0.03},{"p":"b2","k":"s","t":0.963,"lo":-0.03,"hi":0.03},
{"p":"b3","k":"l","t":0,"lo":0},{"p":"b3","k":"l","t":1,"lo":0},
{"p":"b3","k":"s","t":0.019,"lo":-0.38,"hi":0.4},{"p":"b3","k":"s","t":0.069,"lo":-0.38,"hi":0.4},{"p":"b3","k":"s","t":0.118,"lo":-0.38,"hi":0.4},{"p":"b3","k":"s","t":0.168,"lo":-0.38,"hi":0.4},{"p":"b3","k":"s","t":0.218,"lo":-0.38,"hi":0.4},{"p":"b3","k":"s","t":0.268,"lo":-0.38,"hi":0.4},{"p":"b3","k":"s","t":0.317,"lo":-0.38,"hi":0.4},{"p":"b3","k":"s","t":0.367,"lo":-0.38,"hi":0.4},{"p":"b3","k":"s","t":0.417,"lo":-0.38,"hi":0.4},{"p":"b3","k":"s","t":0.466,"lo":-0.38,"hi":0.4},{"p":"b3","k":"s","t":0.516,"lo":-0.38,"hi":0.4},{"p":"b3","k":"s","t":0.566,"lo":-0.38,"hi":0.4},{"p":"b3","k":"s","t":0.615,"lo":-0.38,"hi":0.4},{"p":"b3","k":"s","t":0.665,"lo":-0.38,"hi":0.4},{"p":"b3","k":"s","t":0.715,"lo":-0.38,"hi":0.4},{"p":"b3","k":"s","t":0.765,"lo":-0.38,"hi":0.4},{"p":"b3","k":"s","t":0.814,"lo":-0.38,"hi":0.4},{"p":"b3","k":"s","t":0.864,"lo":-0.38,"hi":0.4},{"p":"b3","k":"s","t":0.914,"lo":-0.38,"hi":0.4},{"p":"b3","k":"s","t":0.963,"lo":-0.38,"hi":0.4},
{"p":"b3","k":"w","t":0.019,"lo":-0.13,"hi":0.13},{"p":"b3","k":"w","t":0.069,"lo":-0.13,"hi":0.13},{"p":"b3","k":"w","t":0.118,"lo":-0.13,"hi":0.13},{"p":"b3","k":"w","t":0.168,"lo":-0.13,"hi":0.13},{"p":"b3","k":"w","t":0.218,"lo":-0.13,"hi":0.13},{"p":"b3","k":"w","t":0.268,"lo":-0.13,"hi":0.13},{"p":"b3","k":"w","t":0.317,"lo":-0.13,"hi":0.13},{"p":"b3","k":"w","t":0.367,"lo":-0.13,"hi":0.13},{"p":"b3","k":"w","t":0.417,"lo":-0.13,"hi":0.13},{"p":"b3","k":"w","t":0.466,"lo":-0.13,"hi":0.13},{"p":"b3","k":"w","t":0.516,"lo":-0.13,"hi":0.13},{"p":"b3","k":"w","t":0.566,"lo":-0.13,"hi":0.13},{"p":"b3","k":"w","t":0.615,"lo":-0.13,"hi":0.13},{"p":"b3","k":"w","t":0.665,"lo":-0.13,"hi":0.13},{"p":"b3","k":"w","t":0.715,"lo":-0.13,"hi":0.13},{"p":"b3","k":"w","t":0.765,"lo":-0.13,"hi":0.13},{"p":"b3","k":"w","t":0.814,"lo":-0.13,"hi":0.13},{"p":"b3","k":"w","t":0.864,"lo":-0.13,"hi":0.13},{"p":"b3","k":"w","t":0.914,"lo":-0.13,"hi":0.13},{"p":"b3","k":"w","t":0.963,"lo":-0.13,"hi":0.13},
{"p":"b4","k":"l","t":0,"lo":0},{"p":"b4","k":"l","t":1,"lo":0},
{"p":"b4","k":"s","t":0.019,"lo":-0.3,"hi":0.22},{"p":"b4","k":"s","t":0.069,"lo":-0.3,"hi":0.22},{"p":"b4","k":"s","t":0.118,"lo":-0.3,"hi":0.22},{"p":"b4","k":"s","t":0.168,"lo":-0.3,"hi":0.22},{"p":"b4","k":"s","t":0.218,"lo":-0.3,"hi":0.22},{"p":"b4","k":"s","t":0.268,"lo":-0.3,"hi":0.22},{"p":"b4","k":"s","t":0.317,"lo":-0.3,"hi":0.22},{"p":"b4","k":"s","t":0.367,"lo":-0.3,"hi":0.22},{"p":"b4","k":"s","t":0.417,"lo":-0.3,"hi":0.22},{"p":"b4","k":"s","t":0.466,"lo":-0.3,"hi":0.22},{"p":"b4","k":"s","t":0.516,"lo":-0.3,"hi":0.22},{"p":"b4","k":"s","t":0.566,"lo":-0.3,"hi":0.22},{"p":"b4","k":"s","t":0.615,"lo":-0.3,"hi":0.22},{"p":"b4","k":"s","t":0.665,"lo":-0.3,"hi":0.22},{"p":"b4","k":"s","t":0.715,"lo":-0.3,"hi":0.22},{"p":"b4","k":"s","t":0.765,"lo":-0.3,"hi":0.22},{"p":"b4","k":"s","t":0.814,"lo":-0.3,"hi":0.22},{"p":"b4","k":"s","t":0.864,"lo":-0.3,"hi":0.22},{"p":"b4","k":"s","t":0.914,"lo":-0.3,"hi":0.22},{"p":"b4","k":"s","t":0.963,"lo":-0.3,"hi":0.22},
{"p":"b4","k":"w","t":0.019,"lo":-0.07,"hi":0.07},{"p":"b4","k":"w","t":0.069,"lo":-0.07,"hi":0.07},{"p":"b4","k":"w","t":0.118,"lo":-0.07,"hi":0.07},{"p":"b4","k":"w","t":0.168,"lo":-0.07,"hi":0.07},{"p":"b4","k":"w","t":0.218,"lo":-0.07,"hi":0.07},{"p":"b4","k":"w","t":0.268,"lo":-0.07,"hi":0.07},{"p":"b4","k":"w","t":0.317,"lo":-0.07,"hi":0.07},{"p":"b4","k":"w","t":0.367,"lo":-0.07,"hi":0.07},{"p":"b4","k":"w","t":0.417,"lo":-0.07,"hi":0.07},{"p":"b4","k":"w","t":0.466,"lo":-0.07,"hi":0.07},{"p":"b4","k":"w","t":0.516,"lo":-0.07,"hi":0.07},{"p":"b4","k":"w","t":0.566,"lo":-0.07,"hi":0.07},{"p":"b4","k":"w","t":0.615,"lo":-0.07,"hi":0.07},{"p":"b4","k":"w","t":0.665,"lo":-0.07,"hi":0.07},{"p":"b4","k":"w","t":0.715,"lo":-0.07,"hi":0.07},{"p":"b4","k":"w","t":0.765,"lo":-0.07,"hi":0.07},{"p":"b4","k":"w","t":0.814,"lo":-0.07,"hi":0.07},{"p":"b4","k":"w","t":0.864,"lo":-0.07,"hi":0.07},{"p":"b4","k":"w","t":0.914,"lo":-0.07,"hi":0.07},{"p":"b4","k":"w","t":0.963,"lo":-0.07,"hi":0.07}
]},
"data":{"name":"d"},
"spacing":14,
"hconcat":[
 {"bounds":"flush","spacing":0,
  "vconcat":[
  {"width":10,"height":13,"view":{"stroke":null},"transform":[{"filter":"false"}],"mark":{"type":"point","opacity":0},"encoding":{}},
  {"columns":3,"bounds":"flush","spacing":{"row":19,"column":21.7},
  "title":{"text":"(c)","orient":"bottom","font":"Liberation Serif","fontSize":12,"fontWeight":"bold","color":"#000","offset":15,"frame":"bounds"},
  "concat":[
  {"title":"IMF1","width":65,"height":20,"transform":[{"filter":"datum.p=='a1'"}],
   "encoding":{"x":{"field":"t","type":"quantitative","title":null,"scale":{"domain":[0,1],"nice":false},"axis":{"values":[0,0.5,1],"format":"~g"}},
    "y":{"field":"lo","type":"quantitative","title":null,"scale":{"domain":[-0.5,0.5],"nice":false,"zero":false},"axis":{"values":[-0.5,0,0.5],"format":"~g"}}},
   "layer":[{"transform":[{"filter":"datum.k=='e'"}],"mark":{"type":"area","color":"#000","clip":true},"encoding":{"y2":{"field":"hi"}}},
    {"transform":[{"filter":"datum.k=='s'"}],"mark":{"type":"rule","color":"#000","strokeWidth":0.6,"clip":true},"encoding":{"y2":{"field":"hi"}}}]},
  {"title":"IMF2","width":65,"height":20,"transform":[{"filter":"datum.p=='a2'"}],
   "encoding":{"x":{"field":"t","type":"quantitative","title":null,"scale":{"domain":[0,1],"nice":false},"axis":{"values":[0,0.5,1],"format":"~g"}},
    "y":{"field":"lo","type":"quantitative","title":null,"scale":{"domain":[-0.1,0.1],"nice":false,"zero":false},"axis":{"values":[-0.1,0,0.1],"format":"~g"}}},
   "layer":[{"transform":[{"filter":"datum.k=='e'"}],"mark":{"type":"area","color":"#000","clip":true},"encoding":{"y2":{"field":"hi"}}},
    {"transform":[{"filter":"datum.k=='s'"}],"mark":{"type":"rule","color":"#000","strokeWidth":0.6,"clip":true},"encoding":{"y2":{"field":"hi"}}}]},
  {"title":"IMF3","width":65,"height":20,"transform":[{"filter":"datum.p=='a3'"}],
   "encoding":{"x":{"field":"t","type":"quantitative","title":null,"scale":{"domain":[0,1],"nice":false},"axis":{"values":[0,0.5,1],"format":"~g"}},
    "y":{"field":"lo","type":"quantitative","title":null,"scale":{"domain":[-0.16,0.22],"nice":false,"zero":false},"axis":{"values":[-0.1,0,0.1,0.2],"format":"~g"}}},
   "layer":[{"transform":[{"filter":"datum.k=='e'"}],"mark":{"type":"area","color":"#000","clip":true},"encoding":{"y2":{"field":"hi"}}},
    {"transform":[{"filter":"datum.k=='s'"}],"mark":{"type":"rule","color":"#000","strokeWidth":0.6,"clip":true},"encoding":{"y2":{"field":"hi"}}}]},
  {"title":"IMF4","width":65,"height":20,"transform":[{"filter":"datum.p=='a4'"}],
   "encoding":{"x":{"field":"t","type":"quantitative","title":null,"scale":{"domain":[0,1],"nice":false},"axis":{"values":[0,0.5,1],"format":"~g"}},
    "y":{"field":"lo","type":"quantitative","title":null,"scale":{"domain":[-0.2,0.2],"nice":false,"zero":false},"axis":{"values":[-0.2,0,0.2],"format":"~g"}}},
   "layer":[{"transform":[{"filter":"datum.k=='e'"}],"mark":{"type":"area","color":"#000","clip":true},"encoding":{"y2":{"field":"hi"}}},
    {"transform":[{"filter":"datum.k=='s'"}],"mark":{"type":"rule","color":"#000","strokeWidth":0.6,"clip":true},"encoding":{"y2":{"field":"hi"}}}]},
  {"title":"IMF5","width":65,"height":20,"transform":[{"filter":"datum.p=='a5'"}],
   "encoding":{"x":{"field":"t","type":"quantitative","title":null,"scale":{"domain":[0,1],"nice":false},"axis":{"values":[0,0.5,1],"format":"~g"}},
    "y":{"field":"lo","type":"quantitative","title":null,"scale":{"domain":[-0.2,0.2],"nice":false,"zero":false},"axis":{"values":[-0.2,0,0.2],"format":"~g"}}},
   "layer":[{"transform":[{"filter":"datum.k=='e'"}],"mark":{"type":"area","color":"#000","clip":true},"encoding":{"y2":{"field":"hi"}}},
    {"transform":[{"filter":"datum.k=='s'"}],"mark":{"type":"rule","color":"#000","strokeWidth":0.6,"clip":true},"encoding":{"y2":{"field":"hi"}}}]},
  {"title":"IMF6","width":65,"height":20,"transform":[{"filter":"datum.p=='a6'"}],
   "encoding":{"x":{"field":"t","type":"quantitative","title":null,"scale":{"domain":[0,1],"nice":false},"axis":{"values":[0,0.5,1],"format":"~g"}},
    "y":{"field":"lo","type":"quantitative","title":null,"scale":{"domain":[-0.5,0.5],"nice":false,"zero":false},"axis":{"values":[-0.5,0,0.5],"format":"~g"}}},
   "layer":[{"transform":[{"filter":"datum.k=='e'"}],"mark":{"type":"area","color":"#000","clip":true},"encoding":{"y2":{"field":"hi"}}},
    {"transform":[{"filter":"datum.k=='s'"}],"mark":{"type":"rule","color":"#000","strokeWidth":0.6,"clip":true},"encoding":{"y2":{"field":"hi"}}}]},
  {"title":"IMF7","width":65,"height":20,"transform":[{"filter":"datum.p=='a7'"}],
   "encoding":{"x":{"field":"t","type":"quantitative","title":null,"scale":{"domain":[0,1],"nice":false},"axis":{"values":[0,0.5,1],"format":"~g"}},
    "y":{"field":"lo","type":"quantitative","title":"Amp/(m/s⁻²)","scale":{"domain":[-0.5,0.5],"nice":false,"zero":false},"axis":{"values":[-0.5,0,0.5],"format":"~g","titleFontSize":8.5,"titleX":-16,"titleY":10,"titleAngle":-90,"titleAlign":"center","titleBaseline":"bottom"}}},
   "layer":[{"transform":[{"filter":"datum.k=='e'"}],"mark":{"type":"area","color":"#000","clip":true},"encoding":{"y2":{"field":"hi"}}},
    {"transform":[{"filter":"datum.k=='s'"}],"mark":{"type":"rule","color":"#000","strokeWidth":0.6,"clip":true},"encoding":{"y2":{"field":"hi"}}}]},
  {"title":"IMF8","width":65,"height":20,"transform":[{"filter":"datum.p=='a8'"}],
   "encoding":{"x":{"field":"t","type":"quantitative","title":null,"scale":{"domain":[0,1],"nice":false},"axis":{"values":[0,0.5,1],"format":"~g"}},
    "y":{"field":"lo","type":"quantitative","title":null,"scale":{"domain":[-0.2,0.2],"nice":false,"zero":false},"axis":{"values":[-0.2,0,0.2],"format":"~g"}}},
   "layer":[{"transform":[{"filter":"datum.k=='e'"}],"mark":{"type":"area","color":"#000","clip":true},"encoding":{"y2":{"field":"hi"}}},
    {"transform":[{"filter":"datum.k=='s'"}],"mark":{"type":"rule","color":"#000","strokeWidth":0.6,"clip":true},"encoding":{"y2":{"field":"hi"}}}]},
  {"title":"IMF9","width":65,"height":20,"transform":[{"filter":"datum.p=='a9'"}],
   "encoding":{"x":{"field":"t","type":"quantitative","title":null,"scale":{"domain":[0,1],"nice":false},"axis":{"values":[0,0.5,1],"format":"~g"}},
    "y":{"field":"lo","type":"quantitative","title":null,"scale":{"domain":[-0.5,0.5],"nice":false,"zero":false},"axis":{"values":[-0.5,0,0.5],"format":"~g"}}},
   "layer":[{"mark":{"type":"line","color":"#555","strokeWidth":0.6,"clip":true},"encoding":{}}]},
  {"title":"IMF10","width":65,"height":20,"transform":[{"filter":"datum.p=='a10'"}],
   "encoding":{"x":{"field":"t","type":"quantitative","title":null,"scale":{"domain":[0,1],"nice":false},"axis":{"values":[0,0.5,1],"format":"~g"}},
    "y":{"field":"lo","type":"quantitative","title":null,"scale":{"domain":[-1,1],"nice":false,"zero":false},"axis":{"values":[-1,0,1],"format":"~g"}}},
   "layer":[{"mark":{"type":"line","color":"#333","strokeWidth":0.7,"clip":true},"encoding":{}}]},
  {"title":"IMF11","width":65,"height":20,"transform":[{"filter":"datum.p=='a11'"}],
   "encoding":{"x":{"field":"t","type":"quantitative","title":null,"scale":{"domain":[0,1],"nice":false},"axis":{"values":[0,0.5,1],"format":"~g"}},
    "y":{"field":"lo","type":"quantitative","title":null,"scale":{"domain":[-0.5,0.5],"nice":false,"zero":false},"axis":{"values":[-0.5,0,0.5],"format":"~g"}}},
   "layer":[{"mark":{"type":"line","color":"#333","strokeWidth":0.7,"clip":true},"encoding":{}}]},
  {"title":"IMF12","width":65,"height":20,"transform":[{"filter":"datum.p=='a12'"}],
   "encoding":{"x":{"field":"t","type":"quantitative","title":null,"scale":{"domain":[0,1],"nice":false},"axis":{"values":[0,0.5,1],"format":"~g"}},
    "y":{"field":"lo","type":"quantitative","title":null,"scale":{"domain":[-0.23,0.17],"nice":false,"zero":false},"axis":{"values":[-0.2,-0.1,0,0.1],"format":"~g"}}},
   "layer":[{"mark":{"type":"line","color":"#444","strokeWidth":0.7,"clip":true,"interpolate":"monotone"},"encoding":{}}]},
  {"title":"IMF13","width":65,"height":20,"transform":[{"filter":"datum.p=='a13'"}],
   "encoding":{"x":{"field":"t","type":"quantitative","title":null,"scale":{"domain":[0,1],"nice":false},"axis":{"values":[0,0.5,1],"format":"~g"}},
    "y":{"field":"lo","type":"quantitative","title":null,"scale":{"domain":[-0.106,0.065],"nice":false,"zero":false},"axis":{"values":[-0.1,-0.05,0,0.05],"format":"~g"}}},
   "layer":[{"mark":{"type":"line","color":"#444","strokeWidth":0.7,"clip":true,"interpolate":"monotone"},"encoding":{}}]},
  {"title":"IMF14","width":65,"height":20,"transform":[{"filter":"datum.p=='a14'"}],
   "encoding":{"x":{"field":"t","type":"quantitative","title":"t/s","scale":{"domain":[0,1],"nice":false},"axis":{"values":[0,0.5,1],"format":"~g","titleFontSize":8,"titleY":11,"titleBaseline":"middle"}},
    "y":{"field":"lo","type":"quantitative","title":null,"scale":{"domain":[-0.032,0.028],"nice":false,"zero":false},"axis":{"values":[-0.02,0,0.02],"format":"~g"}}},
   "layer":[{"mark":{"type":"line","color":"#444","strokeWidth":0.7,"clip":true,"interpolate":"monotone"},"encoding":{}}]},
  {"title":"IMF15","width":65,"height":20,"transform":[{"filter":"datum.p=='a15'"}],
   "encoding":{"x":{"field":"t","type":"quantitative","title":null,"scale":{"domain":[0,1],"nice":false},"axis":{"values":[0,0.5,1],"format":"~g"}},
    "y":{"field":"lo","type":"quantitative","title":null,"scale":{"domain":[-0.085,0.03],"nice":false,"zero":false},"axis":{"values":[-0.08,-0.06,-0.04,-0.02,0,0.02],"format":"~g","labelFontSize":5}}},
   "layer":[{"mark":{"type":"line","color":"#444","strokeWidth":0.7,"clip":true,"interpolate":"monotone"},"encoding":{}}]}
  ]}
 ]},
{"bounds":"flush","spacing":20,
 "title":{"text":"(d)","orient":"bottom","font":"Liberation Serif","fontSize":12,"fontWeight":"bold","color":"#000","offset":2,"frame":"bounds"},
 "vconcat":[
  {"title":"IMF1","width":230,"height":35,"transform":[{"filter":"datum.p=='b1'"}],
   "encoding":{"x":{"field":"t","type":"quantitative","title":null,"scale":{"domain":[0,1],"nice":false},"axis":{"values":[0,0.1,0.2,0.3,0.4,0.5,0.6,0.7,0.8,0.9,1],"format":"~g","labelFontSize":6.5}},
    "y":{"field":"lo","type":"quantitative","title":null,"scale":{"domain":[-1,1],"nice":false,"zero":false},"axis":{"values":[-1,0,1],"format":"~g","labelFontSize":6.5}}},
   "layer":[{"mark":{"type":"line","color":"#222","strokeWidth":0.8,"clip":true,"interpolate":"monotone"},"encoding":{}}]},
  {"title":"IMF2","width":230,"height":35,"transform":[{"filter":"datum.p=='b2'"}],
   "encoding":{"x":{"field":"t","type":"quantitative","title":null,"scale":{"domain":[0,1],"nice":false},"axis":{"values":[0,0.1,0.2,0.3,0.4,0.5,0.6,0.7,0.8,0.9,1],"format":"~g","labelFontSize":6.5}},
    "y":{"field":"lo","type":"quantitative","title":"Amp/(m/s⁻²)","scale":{"domain":[-0.5,0.5],"nice":false,"zero":false},"axis":{"values":[-0.5,0,0.5],"format":"~g","labelFontSize":6.5,"titleFontSize":9,"titleX":-21,"titleY":38,"titleAngle":-90,"titleAlign":"center","titleBaseline":"bottom"}}},
   "layer":[{"transform":[{"filter":"datum.k=='e'"}],"mark":{"type":"area","color":"#707070","clip":true},"encoding":{"y2":{"field":"hi"}}},
    {"transform":[{"filter":"datum.k=='d'"}],"mark":{"type":"area","color":"#303030","clip":true},"encoding":{"y2":{"field":"hi"}}},
    {"transform":[{"filter":"datum.k=='l'"}],"mark":{"type":"line","color":"#000","strokeWidth":0.7,"clip":true},"encoding":{}},
    {"transform":[{"filter":"datum.k=='s'"}],"mark":{"type":"rule","color":"#000","strokeWidth":0.7,"clip":true},"encoding":{"y2":{"field":"hi"}}}]},
  {"title":"IMF3","width":230,"height":35,"transform":[{"filter":"datum.p=='b3'"}],
   "encoding":{"x":{"field":"t","type":"quantitative","title":null,"scale":{"domain":[0,1],"nice":false},"axis":{"values":[0,0.1,0.2,0.3,0.4,0.5,0.6,0.7,0.8,0.9,1],"format":"~g","labelFontSize":6.5}},
    "y":{"field":"lo","type":"quantitative","title":null,"scale":{"domain":[-0.5,0.5],"nice":false,"zero":false},"axis":{"values":[-0.5,0,0.5],"format":"~g","labelFontSize":6.5}}},
   "layer":[{"transform":[{"filter":"datum.k=='l'"}],"mark":{"type":"line","color":"#000","strokeWidth":0.7,"clip":true},"encoding":{}},
    {"transform":[{"filter":"datum.k=='s'"}],"mark":{"type":"rule","color":"#000","strokeWidth":0.8,"clip":true},"encoding":{"y2":{"field":"hi"}}},
    {"transform":[{"filter":"datum.k=='w'"}],"mark":{"type":"rule","color":"#000","strokeWidth":2.2,"clip":true},"encoding":{"y2":{"field":"hi"}}}]},
  {"title":"IMF4","width":230,"height":35,"transform":[{"filter":"datum.p=='b4'"}],
   "encoding":{"x":{"field":"t","type":"quantitative","title":"t/s","scale":{"domain":[0,1],"nice":false},"axis":{"values":[0,0.1,0.2,0.3,0.4,0.5,0.6,0.7,0.8,0.9,1],"format":"~g","labelFontSize":6.5,"titleFontSize":9,"titleY":12,"titleBaseline":"middle"}},
    "y":{"field":"lo","type":"quantitative","title":null,"scale":{"domain":[-0.32,0.23],"nice":false,"zero":false},"axis":{"values":[-0.2,0,0.2],"format":"~g","labelFontSize":6.5}}},
   "layer":[{"transform":[{"filter":"datum.k=='l'"}],"mark":{"type":"line","color":"#000","strokeWidth":0.7,"clip":true},"encoding":{}},
    {"transform":[{"filter":"datum.k=='s'"}],"mark":{"type":"rule","color":"#000","strokeWidth":0.8,"clip":true},"encoding":{"y2":{"field":"hi"}}},
    {"transform":[{"filter":"datum.k=='w'"}],"mark":{"type":"rule","color":"#000","strokeWidth":2.2,"clip":true},"encoding":{"y2":{"field":"hi"}}}]}
 ]}
]
}
